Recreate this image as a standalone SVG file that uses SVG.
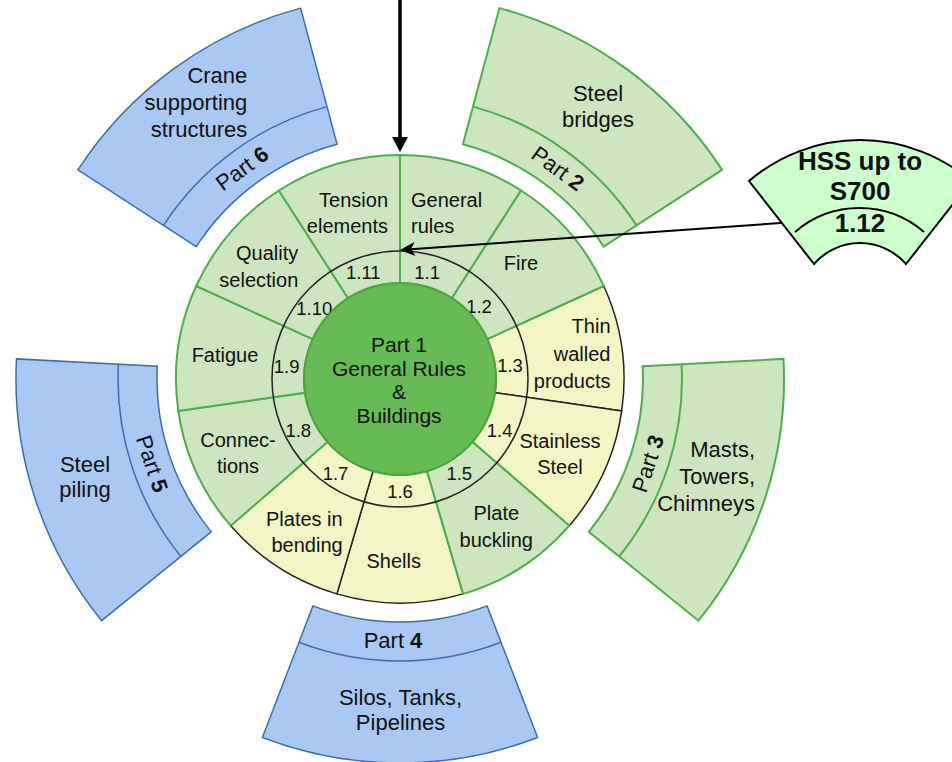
<svg xmlns="http://www.w3.org/2000/svg" width="952" height="762" viewBox="0 0 952 762">
<style>
.t{font-family:"Liberation Sans",Arial,Helvetica,sans-serif;fill:#111}
.l20{font-size:20px}
.l22{font-size:22px}
.num{font-size:18.5px}
.b{font-weight:bold}
.sg{fill:#cde6c0;stroke:#4cae4c;stroke-width:2}
.sy{fill:#f3f6c4;stroke:#222;stroke-width:1.5}
.pg{fill:#cde6c0;stroke:#4cae4c;stroke-width:2}
.pb{fill:#a9c8f4;stroke:#3d6db0;stroke-width:1.5}
.dg{fill:none;stroke:#4cae4c;stroke-width:2}
.db{fill:none;stroke:#3d6db0;stroke-width:1.5}
.mid{text-anchor:middle}
.end{text-anchor:end}
</style>
<defs>
<marker id="ah1" markerUnits="userSpaceOnUse" markerWidth="16" markerHeight="16" viewBox="0 0 15 16" refX="0" refY="8" orient="auto"><path d="M0,0 L15,8 L0,16 Z" fill="#000"/></marker>
<marker id="ah2" markerUnits="userSpaceOnUse" markerWidth="16" markerHeight="14" viewBox="0 0 15 14" refX="4" refY="7" orient="auto"><path d="M0,0 L15,7 L0,14 L4,7 Z" fill="#000"/></marker>
</defs>

<g id="part6">
<path class="pb" d="M196.2,246.7 L77.9,169.9 A384,384 0 0 1 300.6,8.1 L337.1,144.3 A243,243 0 0 0 196.2,246.7 Z"/>
<path class="db" d="M163.5,225.4 A282,282 0 0 1 327,106.6"/>
<text class="t l22 end"><tspan x="247.3" y="83.3">Crane</tspan><tspan x="247.3" y="110">supporting</tspan><tspan x="247.3" y="136.7">structures</tspan></text>
<text class="t l22 mid" transform="translate(245.7,166.6) rotate(-36)" x="-4" y="7">Part <tspan class="b">6</tspan></text>
</g>

<g id="part2">
<path class="pg" d="M462.9,144.3 L499.4,8.1 A384,384 0 0 1 722.1,169.9 L603.8,246.7 A243,243 0 0 0 462.9,144.3 Z"/>
<path class="dg" d="M473,106.6 A282,282 0 0 1 636.5,225.4"/>
<text class="t l22 mid"><tspan x="598" y="100.7">Steel</tspan><tspan x="598" y="127.3">bridges</tspan></text>
<text class="t l22 mid" transform="translate(554.3,166.6) rotate(36)" x="4" y="7">Part <tspan class="b">2</tspan></text>
</g>

<g id="part3">
<path class="pg" d="M642.7,366.3 L783.5,358.9 A384,384 0 0 1 698.4,620.7 L588.8,531.9 A243,243 0 0 0 642.7,366.3 Z"/>
<path class="dg" d="M681.6,364.3 A282,282 0 0 1 619.1,556.5"/>
<text class="t l22 end"><tspan x="755" y="457.3">Masts,</tspan><tspan x="755" y="484.3">Towers,</tspan><tspan x="755" y="511">Chimneys</tspan></text>
<text class="t l22 mid" transform="translate(649.7,460.1) rotate(-72)" x="-4" y="7">Part <tspan class="b">3</tspan></text>
</g>

<g id="part4">
<path class="pb" d="M487.1,605.9 L537.6,737.5 A384,384 0 0 1 262.4,737.5 L312.9,605.9 A243,243 0 0 0 487.1,605.9 Z"/>
<path class="db" d="M501.1,642.3 A282,282 0 0 1 298.9,642.3"/>
<text class="t l22 mid" x="393" y="648.3">Part <tspan class="b">4</tspan></text>
<text class="t l22 mid"><tspan x="400.5" y="705">Silos, Tanks,</tspan><tspan x="400.5" y="730">Pipelines</tspan></text>
</g>

<g id="part5">
<path class="pb" d="M211.2,531.9 L101.6,620.7 A384,384 0 0 1 16.5,358.9 L157.3,366.3 A243,243 0 0 0 211.2,531.9 Z"/>
<path class="db" d="M180.9,556.5 A282,282 0 0 1 118.4,364.3"/>
<text class="t l22 mid"><tspan x="85" y="471.7">Steel</tspan><tspan x="85" y="496.7">piling</tspan></text>
<text class="t l22 mid" transform="translate(150.3,460.1) rotate(72)" x="4" y="7">Part <tspan class="b">5</tspan></text>
</g>

<g id="seg-1-3"><path class="sy" d="M487.3,339.1 L603.8,286 A224,224 0 0 1 621.7,410.9 L495,392.7 A96,96 0 0 0 487.3,339.1 Z"/>
<text class="t l20 end"><tspan x="610.5" y="333.3">Thin</tspan><tspan x="610.5" y="360.7">walled</tspan><tspan x="610.5" y="387.7">products</tspan></text>
<text class="t num mid" x="510" y="371.7">1.3</text></g>
<g id="seg-1-4"><path class="sy" d="M495,392.7 L621.7,410.9 A224,224 0 0 1 569.3,525.7 L472.5,441.9 A96,96 0 0 0 495,392.7 Z"/>
<text class="t l20 mid"><tspan x="560" y="448.3">Stainless</tspan><tspan x="560" y="474.3">Steel</tspan></text>
<text class="t num mid" x="499.7" y="436.7">1.4</text></g>
<g id="seg-1-6"><path class="sy" d="M427,471.1 L463.1,593.9 A224,224 0 0 1 336.9,593.9 L373,471.1 A96,96 0 0 0 427,471.1 Z"/>
<text class="t l20 mid" x="393.7" y="567.7">Shells</text>
<text class="t num mid" x="400" y="498.3">1.6</text></g>
<g id="seg-1-7"><path class="sy" d="M373,471.1 L336.9,593.9 A224,224 0 0 1 230.7,525.7 L327.5,441.9 A96,96 0 0 0 373,471.1 Z"/>
<text class="t l20 end"><tspan x="342.7" y="525.7">Plates in</tspan><tspan x="342.7" y="551.7">bending</tspan></text>
<text class="t num mid" x="335.5" y="480">1.7</text></g>

<g id="seg-1-1"><path class="sg" d="M400,283 L400,155 A224,224 0 0 1 521.1,190.5 L451.9,298.2 A96,96 0 0 0 400,283 Z"/>
<text class="t l20"><tspan x="411" y="206.7">General</tspan><tspan x="411" y="233.3">rules</tspan></text>
<text class="t num mid" x="427.2" y="279.3">1.1</text></g>
<g id="seg-1-2"><path class="sg" d="M451.9,298.2 L521.1,190.5 A224,224 0 0 1 603.8,286 L487.3,339.1 A96,96 0 0 0 451.9,298.2 Z"/>
<text class="t l20 mid" x="521" y="270">Fire</text>
<text class="t num mid" x="479" y="312.7">1.2</text></g>
<g id="seg-1-5"><path class="sg" d="M472.5,441.9 L569.3,525.7 A224,224 0 0 1 463.1,593.9 L427,471.1 A96,96 0 0 0 472.5,441.9 Z"/>
<text class="t l20 mid"><tspan x="496.3" y="520">Plate</tspan><tspan x="496.3" y="547.3">buckling</tspan></text>
<text class="t num mid" x="459.3" y="480">1.5</text></g>
<g id="seg-1-8"><path class="sg" d="M327.5,441.9 L230.7,525.7 A224,224 0 0 1 178.3,410.9 L305,392.7 A96,96 0 0 0 327.5,441.9 Z"/>
<text class="t l20 mid"><tspan x="238" y="446.7">Connec-</tspan><tspan x="238" y="472.7">tions</tspan></text>
<text class="t num mid" x="298.3" y="436.7">1.8</text></g>
<g id="seg-1-9"><path class="sg" d="M305,392.7 L178.3,410.9 A224,224 0 0 1 196.2,286 L312.7,339.1 A96,96 0 0 0 305,392.7 Z"/>
<text class="t l20 mid" x="225" y="361.7">Fatigue</text>
<text class="t num mid" x="286.7" y="373.3">1.9</text></g>
<g id="seg-1-10"><path class="sg" d="M312.7,339.1 L196.2,286 A224,224 0 0 1 278.9,190.5 L348.1,298.2 A96,96 0 0 0 312.7,339.1 Z"/>
<text class="t l20 end"><tspan x="298.3" y="260">Quality</tspan><tspan x="298.3" y="286.7">selection</tspan></text>
<text class="t num mid" x="314.3" y="315">1.10</text></g>
<g id="seg-1-11"><path class="sg" d="M348.1,298.2 L278.9,190.5 A224,224 0 0 1 400,155 L400,283 A96,96 0 0 0 348.1,298.2 Z"/>
<text class="t l20 end"><tspan x="388" y="206.7">Tension</tspan><tspan x="388" y="233.3">elements</tspan></text>
<text class="t num mid" x="363.3" y="279.3">1.11</text></g>

<g id="ring"><circle cx="400" cy="379" r="128" fill="none" stroke="#222" stroke-width="1.5"/></g>

<g id="part1">
<circle cx="400" cy="379" r="96" fill="#66bb55" stroke="#4ea43e" stroke-width="2"/>
<text class="t mid" style="font-size:21px"><tspan x="399" y="352">Part 1</tspan><tspan x="399" y="375.5">General Rules</tspan><tspan x="399" y="399">&amp;</tspan><tspan x="399" y="422.5">Buildings</tspan></text>
</g>

<g id="hss">
<path d="M749,181 A171,171 0 0 1 971,181 L906,264 A61,61 0 0 0 814,264 Z" fill="#ccffcc" stroke="#000" stroke-width="2"/>
<path d="M795,232 A99,99 0 0 1 924,232" fill="none" stroke="#000" stroke-width="2"/>
<text class="t b mid" style="font-size:26px"><tspan x="860" y="170">HSS up to</tspan><tspan x="860" y="200">S700</tspan><tspan x="860" y="231.7">1.12</tspan></text>
</g>

<g id="connectors">
<path d="M400,0 L400,137" fill="none" stroke="#000" stroke-width="3.5" marker-end="url(#ah1)"/>
<path d="M781,223 L411,249.2" fill="none" stroke="#000" stroke-width="2" marker-end="url(#ah2)"/>
</g>
</svg>
